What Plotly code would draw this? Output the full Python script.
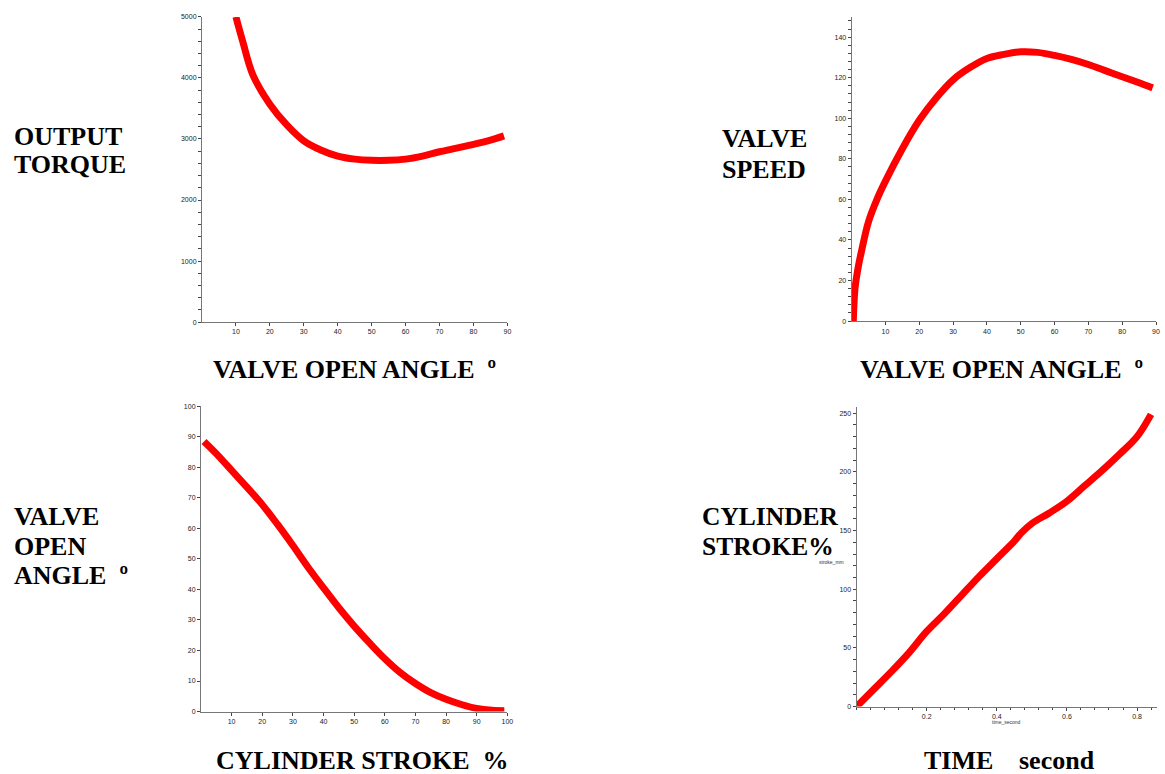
import plotly.graph_objects as go

W, H = 1165, 774

# ---- data ----
angle_t = [10, 12, 15, 20, 25, 30, 35, 40, 45, 50, 55, 60, 65, 70, 75, 80, 85, 89]
torque = [5000, 4600, 4050, 3570, 3230, 2970, 2820, 2720, 2670, 2650, 2650, 2670, 2720, 2790, 2850, 2910, 2980, 3050]

angle_s = [0.5, 0.7, 1, 2, 3, 5, 7.5, 10, 15, 20, 25, 30, 35, 40, 45, 50, 55, 60, 65, 70, 75, 80, 85, 89]
speed = [0, 8, 16, 27, 35, 49, 60, 69, 85, 99, 110, 119, 125, 129.5, 131.5, 132.8, 132.5, 131, 129, 126.5, 123.5, 120.5, 117.5, 115]

stroke_pct = [1, 5, 10, 15, 20, 25, 30, 35, 40, 45, 50, 55, 60, 65, 70, 75, 80, 85, 90, 95, 99]
open_angle = [88.5, 84.5, 79, 73.5, 67.8, 61.3, 54.4, 47.2, 40.5, 34, 28, 22.5, 17.3, 12.8, 9.2, 6.2, 4, 2.3, 1.0, 0.4, 0.3]

time_s = [0, 0.05, 0.1, 0.15, 0.2, 0.25, 0.3, 0.35, 0.4, 0.45, 0.47, 0.5, 0.55, 0.6, 0.65, 0.7, 0.75, 0.8, 0.84]
stroke_mm = [0, 15, 30, 46, 64, 79, 95, 111, 126, 141, 148, 156, 165, 175, 188, 201, 215, 230, 249]

x_ticks_deg = [10, 20, 30, 40, 50, 60, 70, 80, 90]
x_ticks_pct = [10, 20, 30, 40, 50, 60, 70, 80, 90, 100]
x_ticks_time = [0.2, 0.4, 0.6, 0.8]


def px_x(p):
    return p / W


def px_y(p):
    return 1 - p / H


fig = go.Figure()
RED = "#ff0000"
LW = 7

fig.add_trace(go.Scatter(x=angle_t, y=torque, mode="lines", line=dict(color=RED, width=LW, shape="spline"),
                         xaxis="x", yaxis="y", showlegend=False))
fig.add_trace(go.Scatter(x=angle_s, y=speed, mode="lines", line=dict(color=RED, width=LW, shape="spline"),
                         xaxis="x2", yaxis="y2", showlegend=False))
fig.add_trace(go.Scatter(x=stroke_pct, y=open_angle, mode="lines", line=dict(color=RED, width=LW, shape="spline"),
                         xaxis="x3", yaxis="y3", showlegend=False))
fig.add_trace(go.Scatter(x=time_s, y=stroke_mm, mode="lines", line=dict(color=RED, width=LW, shape="spline"),
                         xaxis="x4", yaxis="y4", showlegend=False))

tickfont = dict(family="Liberation Sans, Arial", size=7, color="#222222")
AX = dict(showgrid=False, zeroline=False, showline=True, linecolor="#777777", linewidth=1,
          ticks="outside", ticklen=3, tickcolor="#444444", tickfont=tickfont)


def xax(dom, anchor, rng, tickvals, minor=None):
    d = dict(AX, domain=[px_x(dom[0]), px_x(dom[1])], anchor=anchor, range=rng,
             tickmode="array", tickvals=tickvals)
    if minor:
        d["minor"] = dict(tickmode="linear", tick0=0, dtick=minor, ticks="outside", ticklen=2,
                          tickcolor="#444444", showgrid=False)
    return d


def yax(dom, anchor, rng, dtick, minor=None):
    d = dict(AX, domain=[px_y(dom[1]), px_y(dom[0])], anchor=anchor, range=rng,
             tickmode="linear", tick0=0, dtick=dtick)
    if minor:
        d["minor"] = dict(tickmode="linear", tick0=0, dtick=minor, ticks="outside", ticklen=3,
                          tickcolor="#444444", showgrid=False)
    return d


layout = dict(
    width=W, height=H, autosize=False,
    margin=dict(l=0, r=0, t=0, b=0),
    paper_bgcolor="white", plot_bgcolor="white",
    xaxis=xax((203, 510), "y", [0, 90], x_ticks_deg),
    yaxis=yax((13, 321), "x", [0, 5000], 1000, 200),
    xaxis2=xax((856, 1162), "y2", [0, 90], x_ticks_deg),
    yaxis2=yax((13, 320), "x2", [0, 150], 20, 4),
    xaxis3=xax((202, 510), "y3", [0, 100], x_ticks_pct),
    yaxis3=yax((406, 714), "x3", [0, 100], 10),
    xaxis4=xax((861, 1163), "y4", [0, 0.857], x_ticks_time, 0.04),
    yaxis4=yax((407, 709), "x4", [0, 255], 50, 10),
)
fig.update_layout(**layout)

SERIF = "Liberation Serif, Times New Roman, serif"
NB = "\u00a0"


def big(text, x, y, anchor="left", size=26):
    fig.add_annotation(text="<b>" + text + "</b>", x=px_x(x), y=px_y(y), xref="paper", yref="paper",
                       xanchor=anchor, yanchor="middle", showarrow=False, align=anchor,
                       font=dict(family=SERIF, size=size, color="black"))


big("OUTPUT", 12, 134)
big("TORQUE", 12, 162)
big("VALVE", 768, 136, "center")
big("SPEED", 768, 167, "center")
big("VALVE OPEN ANGLE" + NB + NB + "º", 212, 369)
big("VALVE OPEN ANGLE" + NB + NB + "º", 862, 369)
big("VALVE", 12, 517)
big("OPEN", 12, 547)
big("ANGLE" + NB + NB + "º", 12, 577)
big("CYLINDER", 704, 517, size=25.5)
big("STROKE%", 704, 547, size=25.5)
big("CYLINDER STROKE" + NB + NB + "%", 215, 763)
big("TIME", 927, 763)
big("second", 1022, 763)

small = dict(family="Liberation Sans, Arial", size=5, color="#333333")
fig.add_annotation(text="stroke_mm", x=px_x(850), y=px_y(563), xref="paper", yref="paper",
                   xanchor="right", yanchor="middle", showarrow=False, font=small)
fig.add_annotation(text="time_second", x=px_x(1012), y=px_y(725), xref="paper", yref="paper",
                   xanchor="center", yanchor="middle", showarrow=False, font=small)

fig.write_html("out.html", config={"displayModeBar": False},
               post_script="document.body.style.margin='0px';document.body.style.overflow='hidden';")
